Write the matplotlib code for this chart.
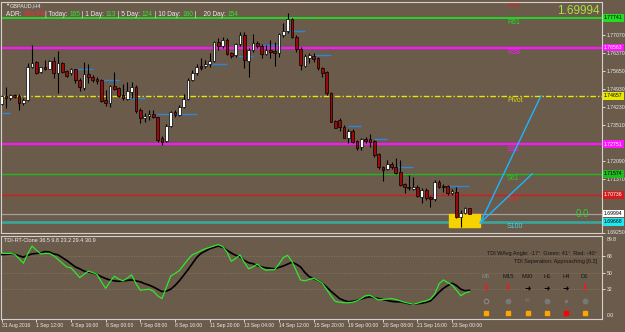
import numpy as np
import matplotlib.pyplot as plt
from matplotlib.transforms import blended_transform_factory

plt.rcParams['font.family'] = ['Liberation Sans', 'DejaVu Sans']

# GBPAUD H4 bars, 31 Aug - 23 Sep 2016
opens = [1.7434, 1.7466, 1.7458, 1.7470, 1.7466, 1.7438, 1.7450, 1.7580, 1.7600, 1.7561,
         1.7580, 1.7572, 1.7604, 1.7557, 1.7596, 1.7565, 1.7557, 1.7572, 1.7529, 1.7497,
         1.7553, 1.7541, 1.7533, 1.7529, 1.7450, 1.7438, 1.7505, 1.7497, 1.7470, 1.7454,
         1.7482, 1.7501, 1.7411, 1.7379, 1.7387, 1.7395, 1.7383, 1.7300, 1.7288, 1.7347,
         1.7403, 1.7391, 1.7422, 1.7454, 1.7529, 1.7557, 1.7584, 1.7584, 1.7592, 1.7604,
         1.7679, 1.7663, 1.7687, 1.7636, 1.7628, 1.7671, 1.7707, 1.7604, 1.7648, 1.7675,
         1.7663, 1.7632, 1.7648, 1.7644, 1.7636, 1.7707, 1.7723, 1.7770, 1.7699, 1.7651,
         1.7584, 1.7616, 1.7624, 1.7616, 1.7576, 1.7561, 1.7478, 1.7367, 1.7371, 1.7343,
         1.7300, 1.7328, 1.7288, 1.7264, 1.7296, 1.7296, 1.7288, 1.7237, 1.7185, 1.7178,
         1.7197, 1.7185, 1.7166, 1.7118, 1.7106, 1.7098, 1.7106, 1.7067, 1.7095, 1.7067,
         1.7059, 1.7126, 1.7110, 1.7110, 1.7083, 1.7087, 1.6988, 1.7004, 1.7020]
highs = [1.7470, 1.7501, 1.7474, 1.7474, 1.7474, 1.7458, 1.7596, 1.7667, 1.7604, 1.7580,
         1.7608, 1.7608, 1.7620, 1.7644, 1.7600, 1.7568, 1.7576, 1.7572, 1.7537, 1.7600,
         1.7592, 1.7549, 1.7541, 1.7533, 1.7490, 1.7509, 1.7561, 1.7501, 1.7513, 1.7521,
         1.7521, 1.7509, 1.7418, 1.7399, 1.7411, 1.7411, 1.7383, 1.7308, 1.7355, 1.7407,
         1.7411, 1.7430, 1.7474, 1.7537, 1.7568, 1.7592, 1.7616, 1.7608, 1.7636, 1.7683,
         1.7695, 1.7699, 1.7695, 1.7640, 1.7675, 1.7719, 1.7719, 1.7655, 1.7711, 1.7683,
         1.7671, 1.7667, 1.7687, 1.7679, 1.7715, 1.7754, 1.7794, 1.7774, 1.7707, 1.7659,
         1.7632, 1.7636, 1.7636, 1.7620, 1.7580, 1.7565, 1.7482, 1.7371, 1.7379, 1.7351,
         1.7335, 1.7335, 1.7292, 1.7300, 1.7304, 1.7316, 1.7292, 1.7241, 1.7189, 1.7213,
         1.7205, 1.7221, 1.7213, 1.7122, 1.7154, 1.7146, 1.7114, 1.7102, 1.7102, 1.7071,
         1.7134, 1.7134, 1.7118, 1.7114, 1.7098, 1.7106, 1.7016, 1.7027, 1.7023]
lows = [1.7430, 1.7418, 1.7450, 1.7458, 1.7411, 1.7430, 1.7446, 1.7576, 1.7553, 1.7557,
        1.7568, 1.7572, 1.7537, 1.7478, 1.7557, 1.7541, 1.7549, 1.7517, 1.7486, 1.7490,
        1.7517, 1.7521, 1.7513, 1.7442, 1.7426, 1.7422, 1.7490, 1.7462, 1.7450, 1.7450,
        1.7458, 1.7399, 1.7359, 1.7363, 1.7371, 1.7379, 1.7284, 1.7272, 1.7284, 1.7343,
        1.7383, 1.7387, 1.7418, 1.7450, 1.7525, 1.7549, 1.7568, 1.7576, 1.7580, 1.7600,
        1.7648, 1.7655, 1.7628, 1.7616, 1.7620, 1.7663, 1.7576, 1.7541, 1.7640, 1.7655,
        1.7616, 1.7628, 1.7616, 1.7584, 1.7620, 1.7699, 1.7715, 1.7695, 1.7640, 1.7568,
        1.7580, 1.7596, 1.7600, 1.7568, 1.7541, 1.7470, 1.7363, 1.7339, 1.7328, 1.7300,
        1.7280, 1.7280, 1.7253, 1.7253, 1.7280, 1.7264, 1.7225, 1.7178, 1.7130, 1.7174,
        1.7178, 1.7158, 1.7110, 1.7083, 1.7095, 1.7095, 1.7067, 1.7043, 1.7055, 1.7027,
        1.7051, 1.7102, 1.7087, 1.7075, 1.7075, 1.6984, 1.6945, 1.7000, 1.6999]
closes = [1.7466, 1.7458, 1.7470, 1.7462, 1.7438, 1.7450, 1.7580, 1.7596, 1.7557, 1.7580,
          1.7572, 1.7604, 1.7557, 1.7596, 1.7561, 1.7545, 1.7572, 1.7529, 1.7501, 1.7553,
          1.7541, 1.7529, 1.7525, 1.7446, 1.7438, 1.7505, 1.7494, 1.7466, 1.7458, 1.7486,
          1.7501, 1.7407, 1.7379, 1.7387, 1.7395, 1.7383, 1.7292, 1.7284, 1.7347, 1.7403,
          1.7391, 1.7422, 1.7454, 1.7529, 1.7557, 1.7580, 1.7576, 1.7592, 1.7604, 1.7679,
          1.7663, 1.7687, 1.7632, 1.7624, 1.7671, 1.7707, 1.7608, 1.7648, 1.7675, 1.7663,
          1.7632, 1.7648, 1.7640, 1.7636, 1.7711, 1.7723, 1.7770, 1.7699, 1.7651, 1.7588,
          1.7624, 1.7628, 1.7612, 1.7576, 1.7557, 1.7478, 1.7363, 1.7339, 1.7343, 1.7300,
          1.7328, 1.7284, 1.7260, 1.7296, 1.7288, 1.7284, 1.7233, 1.7185, 1.7174, 1.7197,
          1.7185, 1.7162, 1.7114, 1.7106, 1.7102, 1.7106, 1.7071, 1.7095, 1.7063, 1.7059,
          1.7126, 1.7106, 1.7106, 1.7083, 1.7091, 1.6988, 1.7004, 1.7023, 1.6999]

# TDI sub-window: green price line and black signal line
tdi_green = [70.7, 70.5, 70.6, 69.5, 65, 60, 70, 78.5, 74, 70,
             70.5, 70.5, 68, 64, 60, 56, 55, 50, 44.5, 48,
             51.5, 50, 48, 40, 33, 40, 46, 43, 41, 44,
             47.5, 38, 31, 31.5, 32, 30, 25, 22, 34, 46,
             49, 52, 58, 64, 69, 71, 73.5, 75.5, 77, 78.5,
             80, 78, 72, 62, 65, 69, 61, 54, 56, 59,
             55, 52.5, 53, 53, 59, 66, 68.5, 62, 52, 42,
             41, 42.5, 44, 41.5, 38.5, 32, 25, 19, 18, 17.5,
             17.5, 18, 19.5, 22, 25, 25.5, 23, 20.5, 21, 21.5,
             22, 21, 19.5, 18, 17, 16, 17, 18.5, 19.5, 21.5,
             27, 38, 42, 39, 36.5, 31, 25, 28, 29.4]
tdi_black = [69.3, 69.5, 70, 69.5, 68, 66.5, 68.5, 70, 70.5, 71,
             72.5, 72, 70, 69, 66, 63, 59.5, 56, 54, 51.5,
             50.5, 49.5, 48, 45.5, 43.5, 42, 41, 40.5, 41, 41.5,
             42, 41, 40, 38, 36.5, 34.5, 32, 29.5, 30, 32,
             36, 41, 47, 53, 59.5, 66, 70.5, 73, 75.5, 77,
             78.5, 77, 74, 71, 68.5, 67, 63, 60.5, 59.5, 57.5,
             56, 55, 54.5, 54, 55.5, 57, 59, 61, 59, 56,
             50, 45.5, 43.5, 41.5, 38.5, 34.5, 30, 26, 22, 20,
             18.5, 19, 20, 21.5, 23, 23.8, 23, 22, 21, 20,
             19, 18.5, 18.5, 17.5, 16.5, 16, 16.5, 17, 18, 19.5,
             24, 29, 33, 36, 38.5, 36, 32, 30.5, 30.9]
tdi_levels = [32, 50, 68]

# fibonacci pivot levels
level_names = ['R78', 'R61', 'R38', 'Pivot', 'S38', 'S61', 'S78', 'S100']
level_prices = [1.78578, 1.77741, 1.76563, 1.74657, 1.72751, 1.71574, 1.70736, 1.69668]
last_price = 1.69994

# short blue daily-open marks: first bar, last bar, price
open_from = [0, 17, 23, 29, 35.6, 48.6, 54.6, 60, 66.5, 72, 80, 86, 91, 103]
open_to = [2, 21, 27, 33, 45, 52, 58, 64, 70, 76, 83, 89, 95, 108]
open_price = [1.7399, 1.7572, 1.7529, 1.7458, 1.7395, 1.7592, 1.7624, 1.7667,
              1.7723, 1.7628, 1.7347, 1.7296, 1.7185, 1.7110]

# yellow box and the two projection lines out of it
box_bars = (103.3, 110.5)
box_prices = (1.69483, 1.69997)
proj_start = (110.5, 1.6963)
proj_end_bars = [124.5, 122.5]
proj_end_prices = [1.74657, 1.71574]

price_ticks = [1.77070, 1.76370, 1.75650, 1.74930, 1.74230, 1.73510, 1.72090, 1.71370, 1.69250]
time_labels = ['31 Aug 2016', '1 Sep 12:00', '4 Sep 16:00', '6 Sep 00:00', '7 Sep 08:00',
               '8 Sep 16:00', '11 Sep 20:00', '13 Sep 04:00', '14 Sep 12:00', '15 Sep 20:00',
               '19 Sep 00:00', '20 Sep 08:00', '21 Sep 16:00', '23 Sep 00:00']

adr_parts = [('ADR: ', 'w'), ('105.0%', 'r'), ('| Today: ', 'w'), ('165', 'g'),
             (' | 1 Day: ', 'w'), ('113', 'g'), (' | 5 Day: ', 'w'), ('124', 'g'),
             (' | 10 Day: ', 'w'), ('160', 'g'), (' |    20 Day: ', 'w'), ('154', 'g')]

tf_names = ['M5', 'M15', 'M30', 'H1', 'H4', 'D1']
tf_arrow = ['down', 'down', 'right', 'right', 'right', 'down']
tf_square = ['#ffa500', '#ffa500', '#ffa500', '#ffa500', '#ff0000', '#ffa500']

BG = '#6b5b4b'
FG = '#ececec'
W, H = 625, 332

def box(x0, y0, w, h):
    return [x0 / W, 1 - (y0 + h) / H, w / W, h / H]

fig = plt.figure(figsize=(6.25, 3.32), dpi=100, facecolor=BG)
ax = fig.add_axes(box(1.5, 1.5, 600.5, 231))
ax2 = fig.add_axes(box(1.5, 235.5, 600.5, 83.5))
for a in (ax, ax2):
    a.set_facecolor(BG)
    for s in a.spines.values():
        s.set_color('#d4d0cc')
        s.set_linewidth(0.8)

x = np.arange(len(closes))
o, h, l, c = map(np.array, (opens, highs, lows, closes))

# ---- main price window
ymin, ymax = 1.69266, 1.78391
ax.set_xlim(-0.05, 138.6)
ax.set_ylim(ymin, ymax)

lw_map = {'R61': 1.3, 'R38': 1.6, 'S38': 1.6, 'S100': 2.0}
line_col = ['#e02020', '#22dd22', '#ff14ff', '#e8e800', '#ff14ff', '#22b822', '#d41c1c', '#3aa39a']
text_col = ['#e02020', '#22dd22', '#ff14ff', '#d8d020', '#ff14ff', '#22cc22', '#e02c2c', '#40d8e8']
for name, p, lc, tc in zip(level_names, level_prices, line_col, text_col):
    ls = (0, (4, 1.5, 1, 1.5)) if name == 'Pivot' else '-'
    ax.axhline(p, color=lc, lw=lw_map.get(name, 1.0), ls=ls, zorder=1)
    # level above the window: keep its tag just inside the top edge
    ty = min(p - 0.0006, ymax - 0.00012)
    ax.text(116.7, ty, name, color=tc, fontsize=5, va='top', ha='left', zorder=2)
ax.axhline(last_price, color='#a0a0a0', lw=0.9, zorder=1)

ax.add_patch(plt.Rectangle((box_bars[0], box_prices[0]), box_bars[1] - box_bars[0],
                           box_prices[1] - box_prices[0], color='#f5d200', zorder=2))
for xb, yp in zip(proj_end_bars, proj_end_prices):
    ax.plot([proj_start[0], xb], [proj_start[1], yp], color='#1eb4ff', lw=1, zorder=2)

ax.hlines(open_price, open_from, open_to, color='#2f86d6', lw=1, zorder=2)

up = c >= o
ax.vlines(x, l, h, color='black', lw=0.8, zorder=3)
ax.bar(x, np.maximum(np.abs(c - o), 0.00008), bottom=np.minimum(o, c), width=0.62,
       color=np.where(up, 'white', '#9a0a0a'), edgecolor='black', linewidth=0.5, zorder=4)

ax.yaxis.tick_right()
ax.set_yticks(price_ticks)
ax.set_yticklabels([f'{v:.5f}' for v in price_ticks])
ax.tick_params(axis='y', colors=FG, labelsize=3.7, length=2, width=0.6, pad=1.2)
ax.set_xticks([])

yb = blended_transform_factory(ax.transAxes, ax.transData)
tags = list(zip(level_prices[1:], line_col[1:], ['black', 'white', 'black', 'white', 'black', 'white', 'black']))
tags[-1] = (level_prices[-1], '#20e8f0', 'black')
tags.append((last_price, 'white', 'black'))
for p, bc, tc in tags:
    ax.text(1.0035, p, f'{p:.5f}', transform=yb, fontsize=3.7, color=tc, va='center', ha='left',
            clip_on=False, zorder=6,
            bbox=dict(boxstyle='square,pad=0.25', fc=bc, ec='none'))

ax.text(0.996, 0.957, f'{last_price:.5f}', transform=ax.transAxes, color='#a8e23c',
        fontsize=8.5, ha='right', va='center')
ax.text(132.6, last_price, '0.0', color='#33cc33', fontsize=7, ha='left', va='center', zorder=5)

# header texts
fig.text(5 / W, 1 - 5.3 / H, '\u25bc', color=FG, fontsize=3, va='center', ha='left')
fig.text(10 / W, 1 - 5.3 / H, 'GBPAUD,H4', color=FG, fontsize=4, va='center', ha='left')

r = fig.canvas.get_renderer()

def run_width(s, size):
    t1 = fig.text(0, 0, '|' + s + '|', fontsize=size)
    t2 = fig.text(0, 0, '||', fontsize=size)
    w = t1.get_window_extent(r).width - t2.get_window_extent(r).width
    t1.remove()
    t2.remove()
    return w

cols = {'w': FG, 'r': '#ff2a2a', 'g': '#2ee82e'}
xp = 6
for s, k in adr_parts:
    fig.text(xp / W, 1 - 14.3 / H, s, color=cols[k], fontsize=4.7, va='center', ha='left')
    xp += run_width(s, 4.7)

# ---- TDI window
ax2.set_xlim(-0.05, 138.6)
ax2.set_ylim(0, 89.8)
for lv in tdi_levels:
    ax2.axhline(lv, color='#8c8070', lw=0.6, ls=(0, (1, 2)), zorder=1)
ax2.plot(x, tdi_black, color='black', lw=1.2, zorder=3)
ax2.plot(x, tdi_green, color='#2ee82e', lw=0.9, zorder=3)

ax2.yaxis.tick_right()
ax2.set_yticks(tdi_levels)
ax2.set_yticklabels([str(v) for v in tdi_levels])
ax2.tick_params(axis='y', colors=FG, labelsize=3.7, length=2, width=0.6, pad=1.2)
ax2.text(1 + 4.5 / 600, 0.985, '89.8', transform=ax2.transAxes, color=FG, fontsize=3.7,
         va='top', ha='left', clip_on=False)
ax2.text(1 + 4.5 / 600, 0.01, '0.0', transform=ax2.transAxes, color=FG, fontsize=3.7,
         va='bottom', ha='left', clip_on=False)

ax2.set_xticks(np.arange(len(time_labels)) * 8)
ax2.set_xticklabels(time_labels, ha='left')
ax2.tick_params(axis='x', colors=FG, labelsize=3.6, length=2, width=0.6, pad=1)

ax2.text(2 / 600, (319 - 240) / 83.5, 'TDI-RT-Clone 36.5 9.8 23.2 29.4 30.9',
         transform=ax2.transAxes, color=FG, fontsize=4, va='center', ha='left')
ax2.text((597 - 1.5) / 600.5, (319 - 253) / 83.5,
         'TDI WAvg Angle: -17\u00b0  Green: 41\u00b0  Red: -40\u00b0',
         transform=ax2.transAxes, color='#151515', fontsize=4, va='center', ha='right')
ax2.text((597 - 1.5) / 600.5, (319 - 262) / 83.5, 'TDI Seperation: Approaching [0.2]',
         transform=ax2.transAxes, color='#151515', fontsize=4, va='center', ha='right')

tf_cols = [486, 508, 527.5, 547, 566, 584.5]
def ry(y):
    return (319 - y) / 83.5

for i, name in enumerate(tf_names):
    cx = (tf_cols[i] - 1.5) / 600.5
    ax2.text(cx, ry(277), name, transform=ax2.transAxes, fontsize=4.2, ha='center',
             va='center', color='#8f8a84' if i == 0 else '#151515')
    if tf_arrow[i] == 'down':
        ax2.text(cx, ry(288.5), '\u2b07', transform=ax2.transAxes, fontsize=5.5, ha='center',
                 va='center', color='#ff1414', family='DejaVu Sans')
    else:
        ax2.text(cx, ry(288.5), '\u279c', transform=ax2.transAxes, fontsize=5.5, ha='center',
                 va='center', color='black', family='DejaVu Sans')
    if i == 0:
        ax2.plot(cx, ry(301), 'o', mfc='none', mec='#888888', ms=3.3, mew=0.8,
                 transform=ax2.transAxes)
    elif name == 'M30':
        ax2.text(cx, ry(301), '%', transform=ax2.transAxes, fontsize=3.8, ha='center',
                 va='center', color='#808080')
    else:
        ax2.plot(cx, ry(301), 'o', color='#787878', ms=1.5 if name == 'H4' else 3.2,
                 transform=ax2.transAxes)
    ax2.plot(cx, ry(313), 's', color=tf_square[i], ms=3.2, transform=ax2.transAxes)

fig.savefig('out.png', dpi=100, facecolor=BG)
